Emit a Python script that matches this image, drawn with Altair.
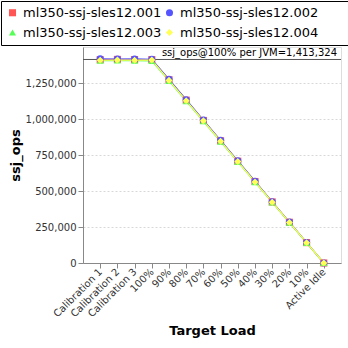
import altair as alt
import pandas as pd

categories = ["Calibration 1", "Calibration 2", "Calibration 3", "100%", "90%", "80%",
              "70%", "60%", "50%", "40%", "30%", "20%", "10%", "Active Idle"]
series_names = ["ml350-ssj-sles12.001", "ml350-ssj-sles12.002",
                "ml350-ssj-sles12.003", "ml350-ssj-sles12.004"]
s001 = [1412000, 1414000, 1413000, 1412500, 1273000, 1131000, 990000, 849000, 707000, 566000, 424000, 283000, 141500, 0]
s002 = [1418000, 1416000, 1417000, 1414000, 1275000, 1134000, 992000, 852000, 709000, 568000, 425000, 284000, 142000, 0]
s003 = [1405000, 1406000, 1405500, 1404000, 1265000, 1124000, 984000, 843000, 702000, 561000, 421000, 280000, 140000, 0]
s004 = [1408000, 1409000, 1408500, 1409000, 1268000, 1127000, 987000, 846000, 704000, 563000, 422000, 281500, 141000, 0]
ref_value = 1413324
ref_label = "ssj_ops@100% per JVM=1,413,324"
y_ticks = [0, 250000, 500000, 750000, 1000000, 1250000]

rows = []
for name, vals in zip(series_names, [s001, s002, s003, s004]):
    for i, (c, v) in enumerate(zip(categories, vals)):
        rows.append({"series": name, "load": c, "ops": v, "order": i})
df = pd.DataFrame(rows)
ref_df = pd.DataFrame({"ops": [ref_value], "label": [ref_label]})

FONT = "DejaVu Sans"
W, H = 258, 216
colors = ["#FF5555", "#5555FF", "#55FF55", "#FFFF55"]
shapes = ["square", "circle", "triangle-up", "diamond"]

x_enc = alt.X("load:N", sort=categories, title="Target Load",
              scale=alt.Scale(type="point", padding=1.24),
              axis=alt.Axis(labelAngle=-45, labelAlign="right", labelBaseline="middle",
                            labelFont=FONT, titleFont=FONT,
                            labelFontSize=10, labelColor="#333333", titleFontSize=13,
                            titleFontWeight="bold", titleColor="#000000", titlePadding=6,
                            domainColor="#888888", tickColor="#888888", grid=False,
                            labelPadding=2))
y_enc = alt.Y("ops:Q", title="ssj_ops",
              scale=alt.Scale(domain=[0, 1500000], nice=False),
              axis=alt.Axis(values=y_ticks, labelExpr="format(datum.value, ',')",
                            labelFont=FONT, titleFont=FONT,
                            labelFontSize=10, labelColor="#333333",
                            titleFontSize=13, titleFontWeight="bold", titleColor="#000000",
                            grid=True, gridDash=[2, 2], gridColor="#d8d8d8",
                            domainColor="#888888", tickColor="#888888", titlePadding=3))

color_enc = alt.Color("series:N", scale=alt.Scale(domain=series_names, range=colors),
                      legend=alt.Legend(title="MM", titleOrient="right", titleColor="#ffffff",
                                        titleFontSize=13, titlePadding=4, titleFont=FONT,
                                        orient="none", legendX=-82, legendY=-46,
                                        columns=2, direction="horizontal", columnPadding=1,
                                        rowPadding=6, labelFont=FONT,
                                        labelFontSize=13, labelColor="#000000",
                                        symbolSize=50, symbolStrokeWidth=0,
                                        strokeColor="#000000", padding=5,
                                        labelLimit=400, symbolOpacity=1))
shape_enc = alt.Shape("series:N", scale=alt.Scale(domain=series_names, range=shapes))

lines = alt.Chart(df).mark_line(strokeWidth=1.2).encode(
    x=x_enc, y=y_enc, color=color_enc, detail="series:N", order="order:Q")
points = alt.Chart(df).mark_point(filled=True, size=50, opacity=1).encode(
    x=x_enc, y=y_enc, color=color_enc, shape=shape_enc)

rule = alt.Chart(ref_df).mark_rule(color="#555555", strokeWidth=1).encode(y=y_enc)
text = alt.Chart(ref_df).mark_text(align="right", baseline="bottom", fontSize=10,
                                   font=FONT, color="#000000", dy=-1).encode(
    x=alt.value(W - 4), y=y_enc, text="label:N")

chart = alt.layer(rule, lines, points, text).properties(
    width=W, height=H,
    autosize=alt.AutoSizeParams(type="none"),
    padding={"left": 83, "top": 47, "right": 7, "bottom": 85},
).configure_view(stroke="#999999", strokeWidth=1).configure(font=FONT)

chart.save("out.html", embed_options={"renderer": "svg", "actions": False})
